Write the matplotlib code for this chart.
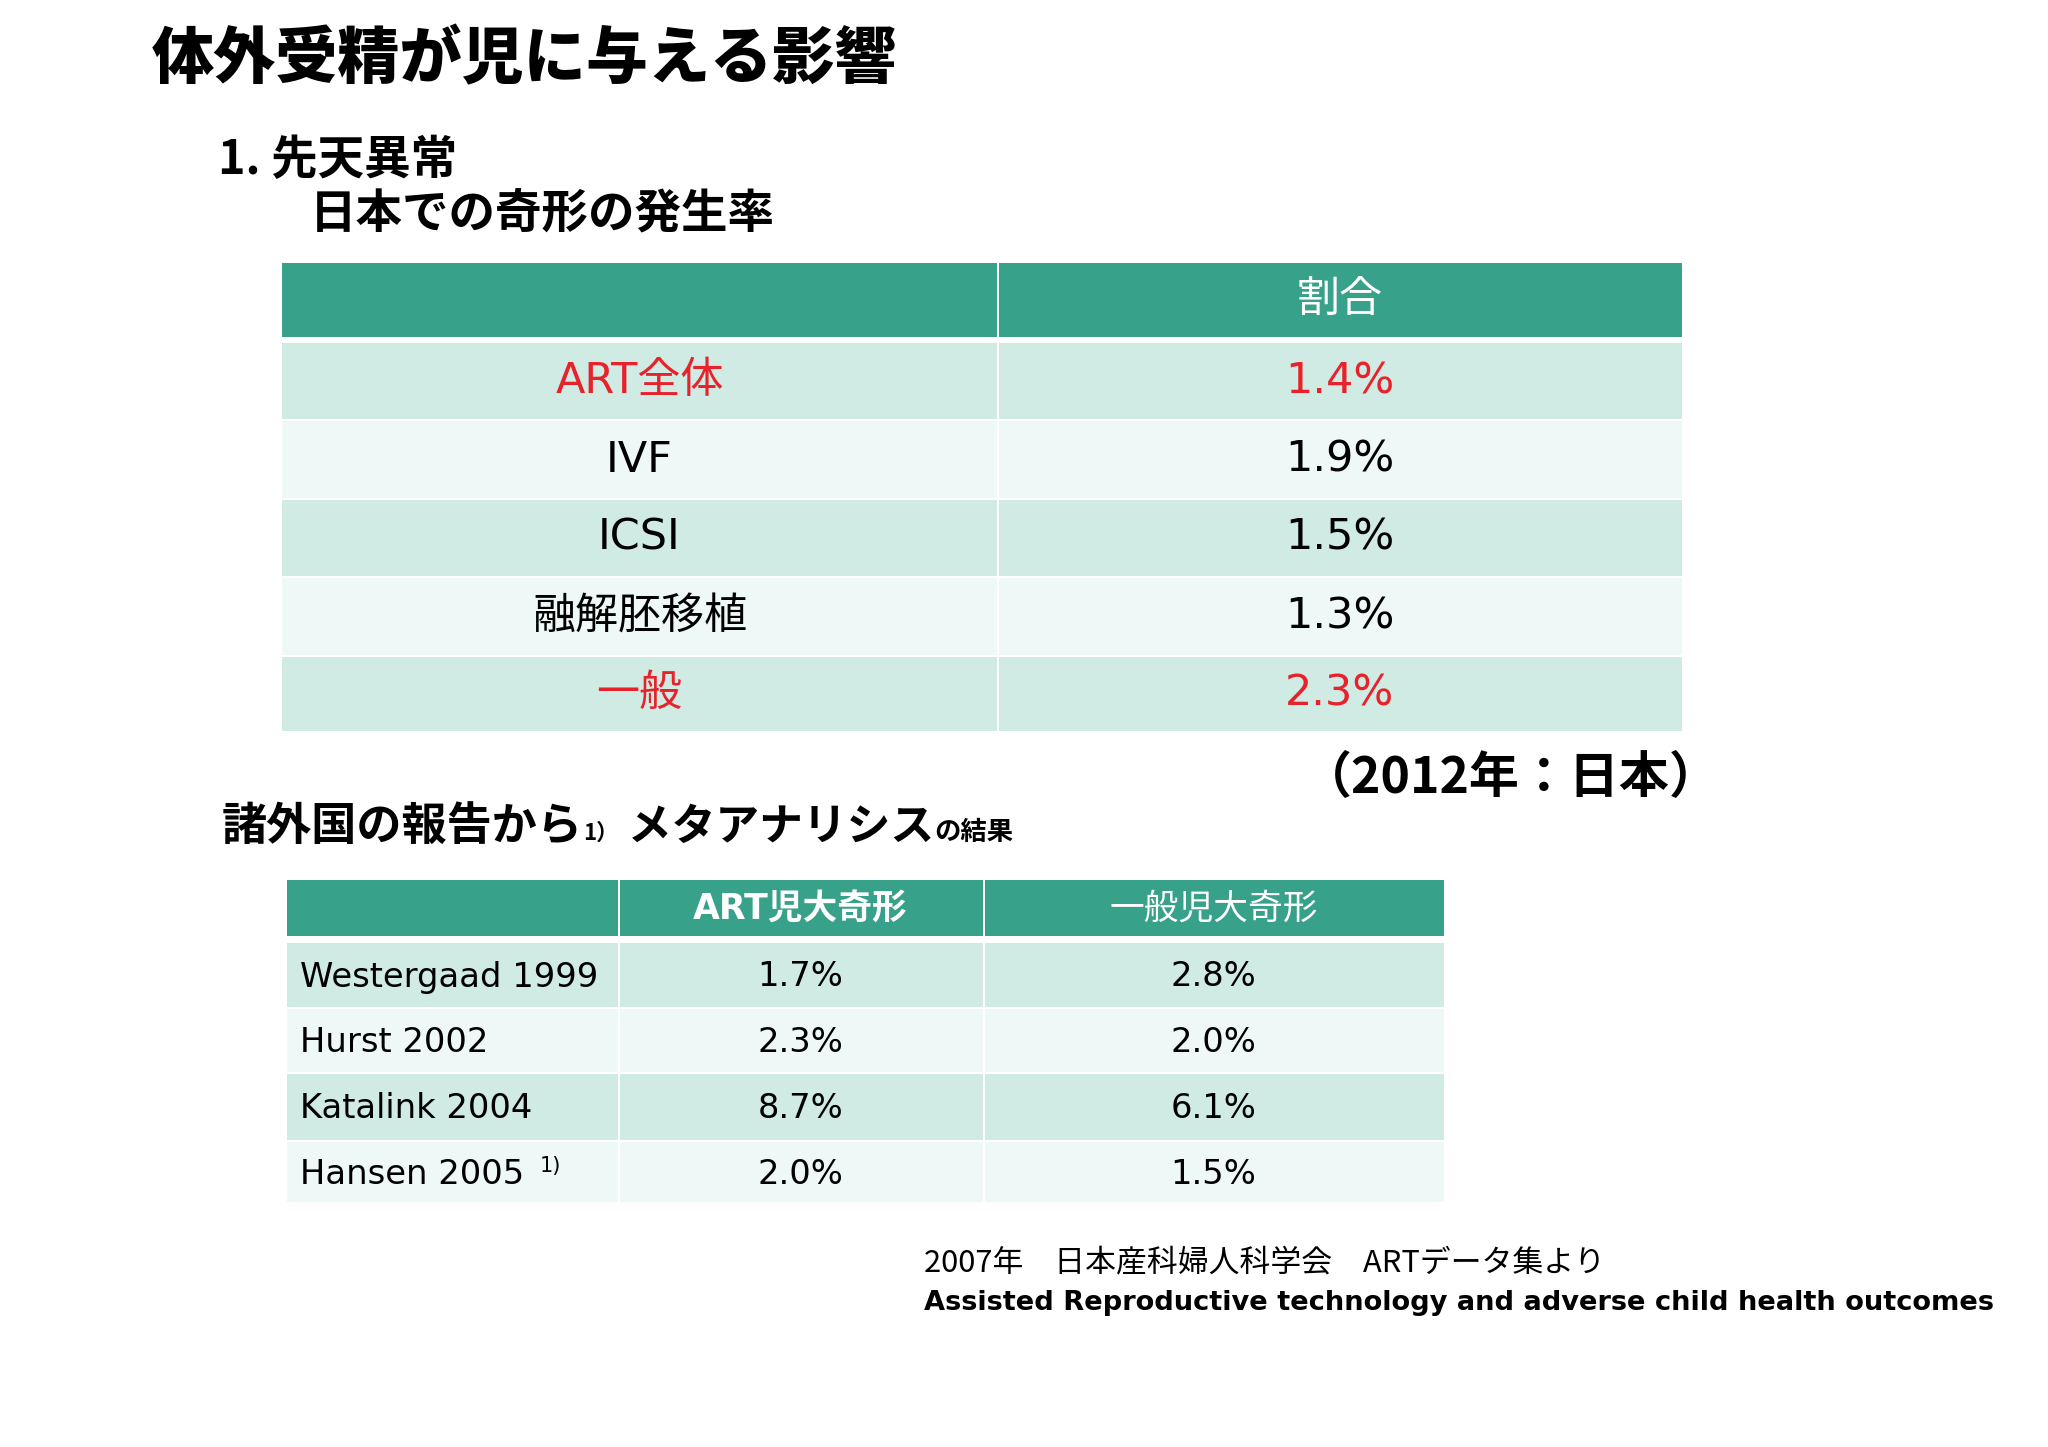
import matplotlib
matplotlib.use("Agg")
import matplotlib.pyplot as plt
from matplotlib.patches import Rectangle

# --- data ---
title = "体外受精が児に与える影響"
section = "1. 先天異常"
subtitle = "日本での奇形の発生率"
t1_header = ["", "割合"]
t1_labels = ["ART全体", "IVF", "ICSI", "融解胚移植", "一般"]
t1_values = ["1.4%", "1.9%", "1.5%", "1.3%", "2.3%"]
t1_red = [True, False, False, False, True]
t1_note = "（2012年：日本）"

t2_header = ["", "ART児大奇形", "一般児大奇形"]
t2_studies = ["Westergaad 1999", "Hurst 2002", "Katalink 2004", "Hansen 2005"]
t2_art = ["1.7%", "2.3%", "8.7%", "2.0%"]
t2_general = ["2.8%", "2.0%", "6.1%", "1.5%"]
t2_marks = ["", "", "", "1)"]

source_jp = "2007年　日本産科婦人科学会　ARTデータ集より"
source_en = "Assisted Reproductive technology and adverse child health outcomes"

# --- style ---
TEAL = "#38a18a"
DARK = "#d0eae4"
LIGHT = "#eef8f6"
RED = "#e8222a"
JP = ["Noto Sans CJK JP"]
MIX = ["DejaVu Sans", "Noto Sans CJK JP"]

fig = plt.figure(figsize=(20.48, 14.47), dpi=100)
ax = fig.add_axes([0, 0, 1, 1])
ax.set_xlim(0, 2048)
ax.set_ylim(1447, 0)
ax.axis("off")

# headings
ax.text(152, 60, title, fontsize=44.7, fontweight=900, family=JP, va="center")
ax.text(218, 160, section, fontsize=33.5, fontweight="bold", family=JP, va="center")
ax.text(310, 214, subtitle, fontsize=33.5, fontweight="bold", family=JP, va="center")


def cell(x0, x1, y0, y1, color):
    ax.add_patch(Rectangle((x0, y0), x1 - x0, y1 - y0, facecolor=color,
                           edgecolor="none"))


# table 1
t1_cols = [282, 997, 1682]
t1_head = (263, 337)
t1_rows = [342, 420, 499, 577, 656, 732]
for c in range(2):
    cell(t1_cols[c] + (2 if c else 0), t1_cols[c + 1], *t1_head, TEAL)
ax.text((t1_cols[1] + t1_cols[2]) / 2, 300, t1_header[1], color="white",
        fontsize=31, family=JP, ha="center", va="center")
for i, (lab, val, red) in enumerate(zip(t1_labels, t1_values, t1_red)):
    y0, y1 = t1_rows[i] + 1, t1_rows[i + 1] - 1
    bg = DARK if i % 2 == 0 else LIGHT
    for c in range(2):
        cell(t1_cols[c] + (2 if c else 0), t1_cols[c + 1], y0, y1, bg)
    col = RED if red else "black"
    yc = (y0 + y1) / 2
    ax.text((t1_cols[0] + t1_cols[1]) / 2, yc, lab, color=col, fontsize=31,
            family=MIX, ha="center", va="center")
    ax.text((t1_cols[1] + t1_cols[2]) / 2, yc, val, color=col, fontsize=31,
            family=MIX, ha="center", va="center")

ax.text(1720, 778, t1_note, fontsize=36, fontweight="bold", family=JP,
        ha="right", va="center")

# meta-analysis heading, drawn piece by piece
fig.canvas.draw()
renderer = fig.canvas.get_renderer()
pieces = [("諸外国の報告から", 32.5), ("1）", 16), (" メタアナリシス", 31.5), ("の結果", 19)]
x = 222
inv = ax.transData.inverted()
for s, size in pieces:
    t = ax.text(x, 840, s, fontsize=size, fontweight="bold", family=JP,
                va="baseline")
    bb = t.get_window_extent(renderer)
    x = inv.transform((bb.x1, 0))[0]

# table 2
t2_cols = [287, 618, 983, 1444]
t2_head = (880, 936)
t2_rows = [942, 1008, 1073, 1141, 1203]
for c in range(3):
    cell(t2_cols[c] + (2 if c else 0), t2_cols[c + 1], *t2_head, TEAL)
for c in (1, 2):
    ax.text((t2_cols[c] + t2_cols[c + 1]) / 2, 909, t2_header[c], color="white",
            fontsize=25, fontweight="bold" if c == 1 else "normal",
            family=MIX, ha="center", va="center")
for i in range(len(t2_studies)):
    y0, y1 = t2_rows[i] + 1, t2_rows[i + 1] - 1
    bg = DARK if i % 2 == 0 else LIGHT
    for c in range(3):
        cell(t2_cols[c] + (2 if c else 0), t2_cols[c + 1], y0, y1, bg)
    yc = (y0 + y1) / 2 + 2
    ax.text(300, yc, t2_studies[i], fontsize=24.3, family=MIX, va="center")
    if t2_marks[i]:
        ax.text(540, yc - 8, t2_marks[i], fontsize=15, family=MIX, va="center")
    ax.text((t2_cols[1] + t2_cols[2]) / 2, yc, t2_art[i], fontsize=24.3,
            family=MIX, ha="center", va="center")
    ax.text((t2_cols[2] + t2_cols[3]) / 2, yc, t2_general[i], fontsize=24.3,
            family=MIX, ha="center", va="center")

# sources
ax.text(924, 1263, source_jp, fontsize=22.2, family=JP, va="center")
ax.text(924, 1303, source_en, fontsize=19.6, fontweight="bold",
        family=["DejaVu Sans"], va="center")

fig.savefig("out.png", dpi=100, facecolor="white")
